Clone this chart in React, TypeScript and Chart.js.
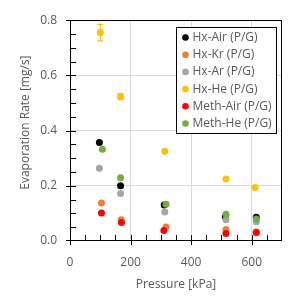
import React, { useEffect, useRef } from 'react';
import { Chart, registerables } from 'chart.js';

Chart.register(...registerables);

const seriesNames = ['Hx-Air (P/G)', 'Hx-Kr (P/G)', 'Hx-Ar (P/G)', 'Hx-He (P/G)', 'Meth-Air (P/G)', 'Meth-He (P/G)'];
const seriesColors = ['#000000', '#ED7D31', '#A5A5A5', '#FFC000', '#FF0000', '#70AD47'];

const hxAirP = [97, 167, 311, 513, 615];
const hxAirR = [0.357, 0.2, 0.13, 0.087, 0.086];
const hxKrP = [104, 169, 317, 515, 615];
const hxKrR = [0.138, 0.077, 0.051, 0.042, 0.033];
const hxArP = [97, 167, 313, 515, 615];
const hxArR = [0.264, 0.172, 0.105, 0.077, 0.07];
const hxHeP = [100, 167, 313, 515, 611];
const hxHeR = [0.755, 0.523, 0.325, 0.225, 0.194];
const hxHeErr = [0.03, 0.011, 0, 0, 0];
const methAirP = [104, 170, 310, 515, 615];
const methAirR = [0.101, 0.067, 0.038, 0.027, 0.031];
const methHeP = [107, 167, 317, 515, 615];
const methHeR = [0.332, 0.229, 0.133, 0.097, 0.08];

const xTicks = [0, 200, 400, 600];
const yTicks = [0, 0.2, 0.4, 0.6, 0.8];
const xMinorStep = 50;
const yMinorStep = 0.05;
const xTitle = 'Pressure [kPa]';
const yTitle = 'Evaporation Rate [mg/s]';

const FONT = "'Open Sans', 'Noto Sans', sans-serif";
const TEXT = '#595959';

const allP = [hxAirP, hxKrP, hxArP, hxHeP, methAirP, methHeP];
const allR = [hxAirR, hxKrR, hxArR, hxHeR, methAirR, methHeR];

function drawErrorBars(chart: any) {
  const ctx = chart.ctx;
  const xs = chart.scales.x;
  const ys = chart.scales.y;
  ctx.save();
  ctx.strokeStyle = seriesColors[3];
  ctx.lineWidth = 1.2;
  hxHeP.forEach((p, i) => {
    const e = hxHeErr[i];
    if (!e) return;
    const x = xs.getPixelForValue(p);
    const y1 = ys.getPixelForValue(hxHeR[i] - e);
    const y2 = ys.getPixelForValue(hxHeR[i] + e);
    ctx.beginPath();
    ctx.moveTo(x, y1);
    ctx.lineTo(x, y2);
    ctx.moveTo(x - 3, y1);
    ctx.lineTo(x + 3, y1);
    ctx.moveTo(x - 3, y2);
    ctx.lineTo(x + 3, y2);
    ctx.stroke();
  });
  ctx.restore();
}

function drawFrame(chart: any) {
  const ctx = chart.ctx;
  const xs = chart.scales.x;
  const ys = chart.scales.y;
  const a = chart.chartArea;
  const L = Math.round(a.left);
  const R = Math.round(a.right) - 1;
  const T = Math.round(a.top);
  const B = Math.round(a.bottom) - 1;
  ctx.save();
  ctx.fillStyle = '#000000';
  ctx.fillRect(L, T, R - L + 1, 1);
  ctx.fillRect(L, B, R - L + 1, 1);
  ctx.fillRect(L, T, 1, B - T + 1);
  ctx.fillRect(R, T, 1, B - T + 1);
  const nx = Math.round((xs.max - xs.min) / xMinorStep);
  for (let k = 0; k <= nx; k++) {
    const v = xs.min + k * xMinorStep;
    const x = Math.min(R, Math.round(xs.getPixelForValue(v)));
    const major = xTicks.some((t) => Math.abs(t - v) < 1e-6);
    if (major) ctx.fillRect(x, B - 5, 1, 10);
    else ctx.fillRect(x, B - 5, 1, 6);
  }
  const ny = Math.round((ys.max - ys.min) / yMinorStep);
  for (let k = 0; k <= ny; k++) {
    const v = ys.min + k * yMinorStep;
    const y = Math.max(T, Math.min(B, Math.round(ys.getPixelForValue(v))));
    const major = yTicks.some((t) => Math.abs(t - v) < 1e-6);
    if (major) ctx.fillRect(L - 4, y, 10, 1);
    else ctx.fillRect(L, y, 6, 1);
  }
  ctx.restore();
}

function drawYTitle(chart: any) {
  const ctx = chart.ctx;
  const a = chart.chartArea;
  ctx.save();
  ctx.translate(26, (a.top + a.bottom) / 2 - 8);
  ctx.rotate(-Math.PI / 2);
  ctx.font = `12px ${FONT}`;
  ctx.fillStyle = TEXT;
  ctx.textAlign = 'center';
  ctx.textBaseline = 'middle';
  ctx.fillText(yTitle, 0, 0);
  ctx.restore();
}

function drawLegend(chart: any) {
  const ctx = chart.ctx;
  const a = chart.chartArea;
  const x0 = Math.round(a.right) - 106 + 0.5;
  const y0 = Math.round(a.top) + 7 + 0.5;
  const w = 100;
  const h = 106;
  ctx.save();
  ctx.fillStyle = '#ffffff';
  ctx.fillRect(x0, y0, w, h);
  ctx.strokeStyle = '#000000';
  ctx.lineWidth = 1;
  ctx.strokeRect(x0, y0, w, h);
  ctx.font = `12px ${FONT}`;
  ctx.textBaseline = 'middle';
  ctx.textAlign = 'left';
  seriesNames.forEach((name, i) => {
    const cy = y0 + 10 + i * 17.2;
    ctx.fillStyle = seriesColors[i];
    ctx.beginPath();
    ctx.arc(x0 + 9, cy, 3.3, 0, Math.PI * 2);
    ctx.fill();
    ctx.fillStyle = TEXT;
    ctx.fillText(name, x0 + 16, cy);
  });
  ctx.restore();
}

const overlayPlugin = {
  id: 'overlay',
  afterDraw(chart: any) {
    drawErrorBars(chart);
    drawFrame(chart);
    drawYTitle(chart);
    drawLegend(chart);
  },
};

export default function App() {
  const ref = useRef<HTMLCanvasElement | null>(null);
  useEffect(() => {
    if (!ref.current) return;
    const datasets = seriesNames.map((name, i) => ({
      label: name,
      data: allP[i].map((p, j) => ({ x: p, y: allR[i][j] })),
      backgroundColor: seriesColors[i],
      borderColor: seriesColors[i],
      pointRadius: 3.5,
      pointBorderWidth: 0,
      showLine: false,
      order: seriesNames.length - i,
    }));
    const chart = new Chart(ref.current, {
      type: 'scatter',
      data: { datasets },
      options: {
        animation: false,
        responsive: false,
        layout: { padding: { top: 15, right: 26, left: 0, bottom: 0 } },
        plugins: { legend: { display: false }, tooltip: { enabled: false } },
        scales: {
          x: {
            type: 'linear',
            min: 0,
            max: 700,
            afterBuildTicks: (s: any) => {
              s.ticks = xTicks.map((v) => ({ value: v }));
            },
            afterFit: (s: any) => {
              s.height = 67;
            },
            grid: {
              color: (c: any) => (c.tick && c.tick.value === 0 ? 'rgba(0,0,0,0)' : '#d9d9d9'),
              drawTicks: false,
            },
            border: { display: false },
            ticks: {
              padding: 14,
              color: TEXT,
              font: { family: FONT, size: 12 },
              callback: (v: any) => String(v),
            },
            title: {
              display: true,
              text: xTitle,
              color: TEXT,
              font: { family: FONT, size: 12 },
              padding: { top: 0, bottom: 16 },
            },
          },
          y: {
            type: 'linear',
            min: 0,
            max: 0.8,
            afterBuildTicks: (s: any) => {
              s.ticks = yTicks.map((v) => ({ value: v }));
            },
            afterFit: (s: any) => {
              s.width = 70;
            },
            grid: {
              color: (c: any) => (c.tick && (c.tick.value === 0 || c.tick.value === 0.8) ? 'rgba(0,0,0,0)' : '#d9d9d9'),
              drawTicks: false,
            },
            border: { display: false },
            ticks: {
              padding: 13,
              color: TEXT,
              font: { family: FONT, size: 12 },
              callback: (v: any) => Number(v).toFixed(1),
            },
            title: { display: false },
          },
        },
      },
      plugins: [overlayPlugin],
    } as any);
    return () => chart.destroy();
  }, []);
  return (
    <div style={{ position: 'absolute', left: 0, top: 0, width: 308, height: 308, background: '#ffffff' }}>
      <canvas ref={ref} width={308} height={308} style={{ width: 308, height: 308, display: 'block' }} />
    </div>
  );
}
